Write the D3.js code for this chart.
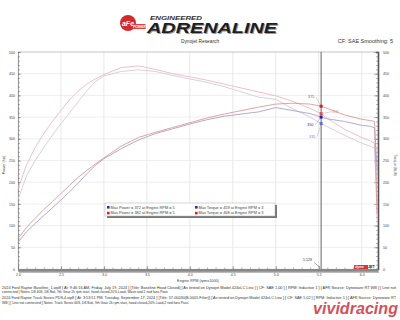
<!DOCTYPE html>
<html><head><meta charset="utf-8">
<script src="https://cdn.jsdelivr.net/npm/d3@7"></script>
<style>
body { margin: 0; background: #fff; }
svg { display: block; font-family: "Liberation Sans", Arial, sans-serif; }
</style></head><body>
<svg id="chart" width="400" height="320"></svg>
<script>
// engine rpm (x1000) and the four dyno runs
var rpm = [2.0, 2.1, 2.2, 2.3, 2.4, 2.5, 2.6, 2.7, 2.8, 2.9, 3.0, 3.2, 3.4, 3.6, 3.8, 4.0, 4.2, 4.4, 4.6, 4.8, 5.0, 5.2, 5.4, 5.528, 5.6, 5.8, 6.0, 6.1, 6.15, 6.18];
var trackTorque = [185, 240, 280, 312, 340, 365, 390, 410, 426, 438, 448, 464, 468, 460, 450, 443, 435, 426, 417, 408, 399, 386, 370, 358, 347, 322, 303, 295, 290, 110];
var trackPower  = [70, 96, 117, 137, 155, 174, 193, 211, 227, 242, 256, 283, 303, 315, 326, 337, 348, 357, 365, 373, 380, 382, 380, 375, 370, 355, 345, 342, 340, 130];
var baseTorque  = [160, 215, 250, 280, 308, 335, 360, 385, 410, 432, 445, 455, 459, 455, 446, 438, 430, 420, 408, 396, 391, 369, 350, 335, 328, 308, 290, 283, 278, 200];
var basePower   = [61, 86, 105, 123, 141, 159, 178, 198, 219, 239, 254, 277, 297, 312, 323, 334, 344, 352, 357, 362, 372, 365, 358, 350, 346, 340, 331, 329, 325, 230];

var xTicks = [2.0, 2.5, 3.0, 3.5, 4.0, 4.5, 5.0, 5.5, 6.0];
var yTicks = [0, 50, 100, 150, 200, 250, 300, 350, 400, 450, 500];
var cursorRpm = 5.528;

var legendBase  = ["Max Power = 372 at Engine RPM = 5", "Max Torque = 459 at Engine RPM = 3"];
var legendTrack = ["Max Power = 382 at Engine RPM = 5", "Max Torque = 468 at Engine RPM = 3"];

var notes = [
    "2024 Ford Raptor Baseline_1.wp8 [ At: 9:46:16 AM, Friday, July 19, 2024 ] [Title: Baseline Hood Closed] [ As tested on Dynojet Model 424xLC Linx ] [ CF: SAE 1.00 ] [ RPM: Inductive 1 ] [ AFR Source: Dynoware RT WB ] [ Line not",
    "connected ] Notes: D8 40S, D8 Bali, 9th Gear 2k rpm start, hood closed,20% Load, Wave and 2 rwd fans Pass",
    "2024 Ford Raptor Track Series PDS,4.wp8 [ At: 3:53:51 PM, Tuesday, September 17, 2024 ] [Title: 57-00030(B-0005 Filter)] [ As tested on Dynojet Model 424xLC Linx ] [ CF: SAE 1.02 ] [ RPM: Inductive 1 ] [ AFR Source: Dynoware RT",
    "WB ] [ Line not connected ] Notes: Track Series 60S, D8 Bali, 9th Gear 2k rpm start, hood closed,20% Load,2 rwd fans Pass"
];

var svg = d3.select("#chart");
var x = d3.scaleLinear().domain([2.0, 6.19]).range([18, 378]);
var y = d3.scaleLinear().domain([0, 500]).range([269, 52]);

// header
var logo = svg.append("g");
logo.append("circle").attr("cx", 128).attr("cy", 23).attr("r", 8).attr("fill", "#d42a2a");
logo.append("text").attr("x", 128).attr("y", 25.5).attr("text-anchor", "middle")
    .attr("font-size", 7).attr("font-weight", "bold").attr("font-style", "italic")
    .attr("fill", "#fff").text("aFe");
logo.append("rect").attr("x", 133).attr("y", 24).attr("width", 13).attr("height", 5).attr("rx", 1.5)
    .attr("fill", "#e04040");
logo.append("text").attr("x", 139.5).attr("y", 28).attr("text-anchor", "middle")
    .attr("font-size", 3.5).attr("font-weight", "bold").attr("font-style", "italic")
    .attr("fill", "#fff").text("POWER");
logo.append("text").attr("x", 150).attr("y", 19.5).attr("font-size", 5.5)
    .attr("font-weight", "bold").attr("font-style", "italic").attr("fill", "#333")
    .attr("textLength", 52).attr("lengthAdjust", "spacingAndGlyphs").text("ENGINEERED");
logo.append("text").attr("x", 148).attr("y", 34).attr("font-size", 15)
    .attr("font-weight", "bold").attr("font-style", "italic").attr("fill", "#999")
    .attr("textLength", 130).attr("lengthAdjust", "spacingAndGlyphs").text("ADRENALINE");
logo.append("text").attr("x", 147).attr("y", 33).attr("font-size", 15)
    .attr("font-weight", "bold").attr("font-style", "italic").attr("fill", "#1e1e1e")
    .attr("textLength", 130).attr("lengthAdjust", "spacingAndGlyphs").text("ADRENALINE");

svg.append("text").attr("x", 200).attr("y", 43).attr("text-anchor", "middle")
    .attr("font-size", 4.8).attr("fill", "#333").text("Dynojet Research");
svg.append("text").attr("x", 393).attr("y", 43).attr("text-anchor", "end")
    .attr("font-size", 5.5).attr("fill", "#333").text("CF: SAE Smoothing: 5");

// gridlines
svg.append("g").selectAll("line").data(xTicks).enter().append("line")
    .attr("x1", d => x(d)).attr("x2", d => x(d)).attr("y1", 52).attr("y2", 269)
    .attr("stroke", "#e0e0e0").attr("stroke-width", 0.7);
svg.append("g").selectAll("line").data(yTicks).enter().append("line")
    .attr("x1", 18).attr("x2", 378).attr("y1", d => y(d)).attr("y2", d => y(d))
    .attr("stroke", d => d === 500 ? "#aaa" : "#e6e6e6").attr("stroke-width", 0.7);

// axes
function styleAxis(g, size) {
    g.attr("font-size", size).attr("font-family", null);
    g.selectAll("text").attr("fill", "#444");
    g.selectAll("line").attr("stroke", "#666").attr("stroke-width", 0.5);
}

var minorY = d3.range(0, 501, 10);
svg.append("g").attr("transform", "translate(18,0)")
    .call(d3.axisLeft(y).tickValues(minorY).tickSize(-2).tickFormat(""))
    .call(g => { g.select(".domain").attr("stroke", "#888").attr("stroke-width", 0.8); styleAxis(g, 3.6); });
svg.append("g").attr("transform", "translate(18,0)")
    .call(d3.axisLeft(y).tickValues(yTicks).tickSize(-3).tickPadding(3))
    .call(g => { g.select(".domain").remove(); styleAxis(g, 3.6); });

svg.append("g").attr("transform", "translate(378,0)")
    .call(d3.axisRight(y).tickValues(minorY).tickSize(-2).tickFormat(""))
    .call(g => { g.select(".domain").attr("stroke", "#555").attr("stroke-width", 1.6); styleAxis(g, 3.6); });
svg.append("g").attr("transform", "translate(378,0)")
    .call(d3.axisRight(y).tickValues(yTicks).tickSize(-4).tickPadding(5))
    .call(g => { g.select(".domain").remove(); styleAxis(g, 3.6); });

// bottom bar + ticks
svg.append("rect").attr("x", 19).attr("y", 270).attr("width", 360).attr("height", 3).attr("fill", "#bbb");
svg.append("rect").attr("x", 18).attr("y", 269).attr("width", 360).attr("height", 2.6).attr("fill", "#888");
svg.append("g").attr("transform", "translate(0,269)")
    .call(d3.axisBottom(x).tickValues(d3.range(2.0, 6.15, 0.1)).tickSize(-1.5).tickFormat(""))
    .call(g => { g.select(".domain").remove(); styleAxis(g, 3.6); });
svg.append("g").attr("transform", "translate(0,269)")
    .call(d3.axisBottom(x).tickValues(xTicks).tickSize(-3).tickPadding(4.5).tickFormat(d3.format(".1f")))
    .call(g => { g.select(".domain").remove(); styleAxis(g, 3.6); });

svg.append("text").attr("x", 198).attr("y", 281.5).attr("text-anchor", "middle")
    .attr("font-size", 3.8).attr("fill", "#444").text("Engine RPM (rpmx1000)");
svg.append("text").attr("transform", "translate(5,165) rotate(-90)").attr("text-anchor", "middle")
    .attr("font-size", 3.8).attr("fill", "#444").text("Power (hp)");
svg.append("text").attr("transform", "translate(394,165) rotate(90)").attr("text-anchor", "middle")
    .attr("font-size", 3.8).attr("fill", "#444").text("Torque (lb-ft)");

// dyno curves
var series = [
    { values: baseTorque,  color: "#cfc8da" },
    { values: trackTorque, color: "#eab6bf" },
    { values: basePower,   color: "#a59bcb" },
    { values: trackPower,  color: "#dc9494" }
];
var line = d3.line().x((d, i) => x(rpm[i])).y(d => y(d));
svg.append("g").selectAll("path").data(series).enter().append("path")
    .attr("d", d => line(d.values))
    .attr("fill", "none").attr("stroke", d => d.color).attr("stroke-width", 0.85);

// cursor
var ci = rpm.indexOf(cursorRpm);
var cx = x(cursorRpm);
svg.append("line").attr("x1", cx).attr("x2", cx).attr("y1", 52).attr("y2", 269)
    .attr("stroke", "#555").attr("stroke-width", 0.9);
svg.append("text").attr("x", cx - 18).attr("y", 261).attr("font-size", 3.6).attr("fill", "#444").text(cursorRpm.toFixed(3));
svg.append("line").attr("x1", cx - 7).attr("y1", 262.5).attr("x2", cx - 1).attr("y2", 267.5)
    .attr("stroke", "#444").attr("stroke-width", 0.5);

var callouts = [
    { v: trackPower[ci], color: "#c53b3b", dx: -13, dy: -8, mark: "#d62020" },
    { v: trackTorque[ci], color: "#e38a8a", dx: 11, dy: -1, mark: "#e05050" },
    { v: basePower[ci], color: "#2a2a9a", dx: -14, dy: 9, mark: "#2222b0" },
    { v: baseTorque[ci], color: "#7c7cd6", dx: -12, dy: 14, mark: "#6a6ad0" }
];
var cg = svg.append("g").selectAll("g").data(callouts).enter().append("g");
cg.append("line").attr("x1", cx).attr("y1", d => y(d.v))
    .attr("x2", d => cx + d.dx + (d.dx < 0 ? 8 : 0)).attr("y2", d => y(d.v) + d.dy - 1)
    .attr("stroke", "#999").attr("stroke-width", 0.4);
cg.append("rect").attr("x", cx - 1.5).attr("y", d => y(d.v) - 1.5).attr("width", 3).attr("height", 3)
    .attr("fill", d => d.mark);
cg.append("text").attr("x", d => cx + d.dx).attr("y", d => y(d.v) + d.dy)
    .attr("font-size", 3.8).attr("fill", d => d.color).text(d => d.v);

// legend
var lg = svg.append("g").attr("transform", "translate(105,203)");
lg.append("rect").attr("x", 2).attr("y", 2).attr("width", 170).attr("height", 13).attr("fill", "#777");
lg.append("rect").attr("width", 170).attr("height", 13).attr("fill", "#fff").attr("stroke", "#aaa").attr("stroke-width", 0.5);
var rows = [{ color: "#2b2bb5", texts: legendBase }, { color: "#c62828", texts: legendTrack }];
rows.forEach(function(r, i) {
    r.texts.forEach(function(t, j) {
        lg.append("rect").attr("x", 2 + j * 88).attr("y", 3 + i * 5.8).attr("width", 2.6).attr("height", 2.6).attr("fill", r.color);
        lg.append("text").attr("x", 5.5 + j * 88).attr("y", 5.6 + i * 5.8).attr("font-size", 3.9)
            .attr("fill", "#444").text(t);
    });
});

// dynojet badge
svg.append("rect").attr("x", 354).attr("y", 265).attr("width", 14).attr("height", 4).attr("fill", "#d23a3a");
svg.append("text").attr("x", 355).attr("y", 268.4).attr("font-size", 3.6).attr("font-weight", "bold")
    .attr("font-style", "italic").attr("fill", "#fff").text("dyno");
svg.append("text").attr("x", 368).attr("y", 268.4).attr("font-size", 3.6).attr("font-weight", "bold")
    .attr("fill", "#111").text("JET");

// run notes
svg.append("g").selectAll("text").data(notes).enter().append("text")
    .attr("x", 2).attr("y", (d, i) => 289 + i * 4.4 + (i >= 2 ? 1.5 : 0))
    .attr("font-size", 3.4).attr("fill", "#333")
    .attr("textLength", (d, i) => i % 2 === 0 ? 394 : null)
    .attr("lengthAdjust", "spacingAndGlyphs")
    .text(d => d);

// watermark
svg.append("text").attr("x", 313).attr("y", 314).attr("font-size", 16).attr("font-weight", "bold")
    .attr("font-style", "italic").attr("fill", "#cc3340").attr("opacity", 0.85)
    .attr("textLength", 85).attr("lengthAdjust", "spacingAndGlyphs").text("vividracing");
</script>
</body></html>
